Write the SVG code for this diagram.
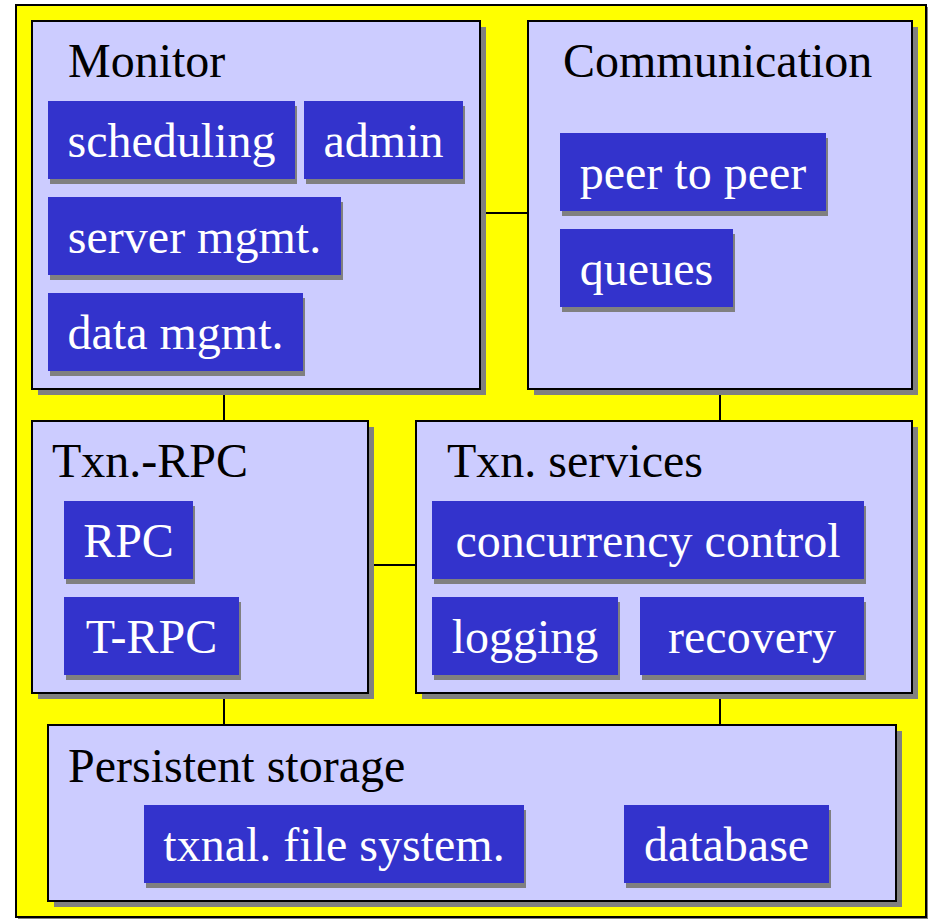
<svg xmlns="http://www.w3.org/2000/svg" width="928" height="921" viewBox="0 0 928 921">
<style>
.frame{fill:#FFFF00;stroke:#000;stroke-width:2}
.panel{fill:#CCCCFF;stroke:#000;stroke-width:2}
.pshadow{fill:#808080}
.chip{fill:#3333CC}
.cshadow{fill:#808080}
text{font-family:'Liberation Serif','Times New Roman',Times,serif;font-size:48px}
.title{fill:#000}
.label{fill:#FFF;text-anchor:middle}
.conn{stroke:#000;stroke-width:2;fill:none}
</style>
<rect x="18" y="7" width="910" height="912" fill="#808080"/>
<rect class="frame" x="16" y="5" width="910" height="912"/>

<g id="connectors">
<line class="conn" x1="480" y1="213" x2="528" y2="213"/>
<line class="conn" x1="224" y1="389" x2="224" y2="421"/>
<line class="conn" x1="720" y1="389" x2="720" y2="421"/>
<line class="conn" x1="368" y1="565" x2="416" y2="565"/>
<line class="conn" x1="224" y1="693" x2="224" y2="725"/>
<line class="conn" x1="720" y1="693" x2="720" y2="725"/>
</g>

<g id="monitor">
<rect class="pshadow" x="38" y="27" width="448" height="368"/>
<rect class="panel" x="32" y="21" width="448" height="368"/>
<text class="title" x="68" y="77">Monitor</text>
<g id="scheduling"><rect class="cshadow" x="50" y="106" width="247" height="78"/><rect class="chip" x="48" y="101" width="247" height="78"/><text class="label" x="171.5" y="157">scheduling</text></g>
<g id="admin"><rect class="cshadow" x="306" y="106" width="159" height="78"/><rect class="chip" x="304" y="101" width="159" height="78"/><text class="label" x="383.5" y="157">admin</text></g>
<g id="server-mgmt"><rect class="cshadow" x="50" y="202" width="293" height="78"/><rect class="chip" x="48" y="197" width="293" height="78"/><text class="label" x="194.5" y="253">server mgmt.</text></g>
<g id="data-mgmt"><rect class="cshadow" x="50" y="298" width="255" height="78"/><rect class="chip" x="48" y="293" width="255" height="78"/><text class="label" x="175.5" y="349">data mgmt.</text></g>
</g>

<g id="communication">
<rect class="pshadow" x="534" y="27" width="384" height="368"/>
<rect class="panel" x="528" y="21" width="384" height="368"/>
<text class="title" x="563" y="77">Communication</text>
<g id="peer-to-peer"><rect class="cshadow" x="562" y="138" width="266" height="78"/><rect class="chip" x="560" y="133" width="266" height="78"/><text class="label" x="693" y="189">peer to peer</text></g>
<g id="queues"><rect class="cshadow" x="562" y="234" width="173" height="78"/><rect class="chip" x="560" y="229" width="173" height="78"/><text class="label" x="646.5" y="285">queues</text></g>
</g>

<g id="txn-rpc">
<rect class="pshadow" x="38" y="427" width="336" height="272"/>
<rect class="panel" x="32" y="421" width="336" height="272"/>
<text class="title" x="52" y="477">Txn.-RPC</text>
<g id="rpc"><rect class="cshadow" x="66" y="506" width="129" height="78"/><rect class="chip" x="64" y="501" width="129" height="78"/><text class="label" x="128.5" y="557">RPC</text></g>
<g id="t-rpc"><rect class="cshadow" x="66" y="602" width="175" height="78"/><rect class="chip" x="64" y="597" width="175" height="78"/><text class="label" x="151.5" y="653">T-RPC</text></g>
</g>

<g id="txn-services">
<rect class="pshadow" x="422" y="427" width="496" height="272"/>
<rect class="panel" x="416" y="421" width="496" height="272"/>
<text class="title" x="447" y="477">Txn. services</text>
<g id="concurrency-control"><rect class="cshadow" x="434" y="506" width="432" height="78"/><rect class="chip" x="432" y="501" width="432" height="78"/><text class="label" x="648" y="557">concurrency control</text></g>
<g id="logging"><rect class="cshadow" x="434" y="602" width="186" height="78"/><rect class="chip" x="432" y="597" width="186" height="78"/><text class="label" x="525" y="653">logging</text></g>
<g id="recovery"><rect class="cshadow" x="642" y="602" width="224" height="78"/><rect class="chip" x="640" y="597" width="224" height="78"/><text class="label" x="752" y="653">recovery</text></g>
</g>

<g id="persistent-storage">
<rect class="pshadow" x="54" y="731" width="848" height="176"/>
<rect class="panel" x="48" y="725" width="848" height="176"/>
<text class="title" x="68" y="782">Persistent storage</text>
<g id="txnal-file-system"><rect class="cshadow" x="146" y="810" width="380" height="78"/><rect class="chip" x="144" y="805" width="380" height="78"/><text class="label" x="334" y="861">txnal. file system.</text></g>
<g id="database"><rect class="cshadow" x="626" y="810" width="205" height="78"/><rect class="chip" x="624" y="805" width="205" height="78"/><text class="label" x="726.5" y="861">database</text></g>
</g>
</svg>
